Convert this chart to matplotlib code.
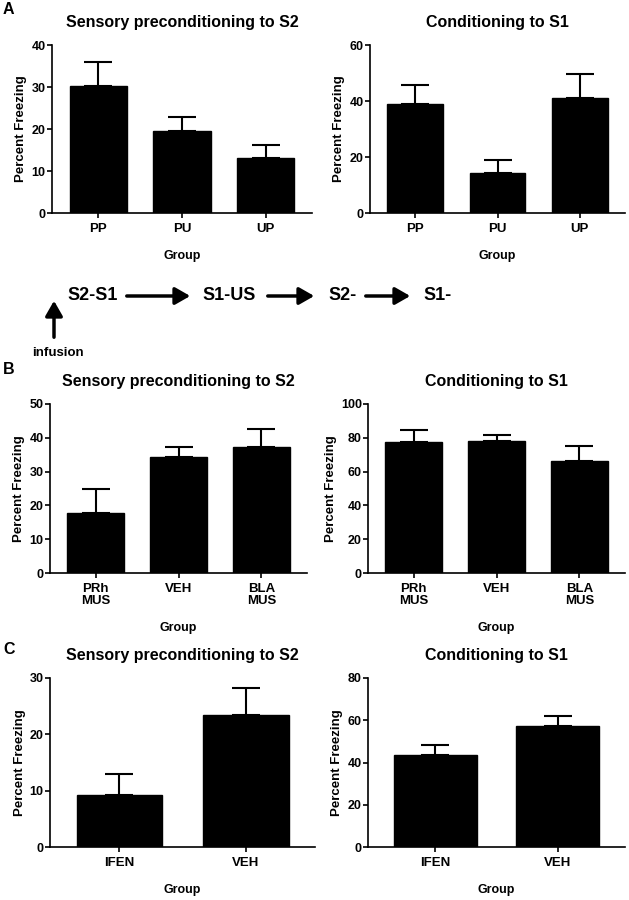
import matplotlib
matplotlib.use("Agg")
import matplotlib.pyplot as plt
import numpy as np

plt.rcParams['font.family'] = ['Liberation Sans', 'DejaVu Sans']
plt.rcParams['font.weight'] = 'bold'
plt.rcParams['axes.labelweight'] = 'bold'
plt.rcParams['axes.titleweight'] = 'bold'

# panel A
a_groups = ["PP", "PU", "UP"]
a_spc_mean = [30.3, 19.6, 13.2]
a_spc_sem = [5.6, 3.2, 3.0]
a_cond_mean = [38.8, 14.3, 41.0]
a_cond_sem = [6.8, 4.5, 8.6]

# panel B
b_groups = ["PRh\nMUS", "VEH", "BLA\nMUS"]
b_spc_mean = [17.8, 34.3, 37.2]
b_spc_sem = [7.1, 3.1, 5.4]
b_cond_mean = [77.6, 78.4, 66.1]
b_cond_sem = [7.0, 3.4, 8.9]

# panel C
c_groups = ["IFEN", "VEH"]
c_spc_mean = [9.3, 23.5]
c_spc_sem = [3.6, 4.8]
c_cond_mean = [43.6, 57.3]
c_cond_sem = [4.6, 4.6]

W, H = 629, 900
fig = plt.figure(figsize=(W / 100, H / 100), dpi=100)


def add_axes_px(x0, x1, y0, y1):
    return fig.add_axes([x0 / W, 1 - y1 / H, (x1 - x0) / W, (y1 - y0) / H])


def bar_panel(ax, groups, mean, sem, ymax, ystep, title):
    x = np.arange(len(groups))
    ax.bar(x, mean, width=0.68, color="black", edgecolor="black",
           yerr=[np.zeros(len(sem)), sem],
           error_kw=dict(ecolor="black", elinewidth=1.5, capsize=10, capthick=1.5))
    ax.set_xlim(-0.55, len(groups) - 0.45)
    ax.set_ylim(0, ymax)
    ax.set_yticks(np.arange(0, ymax + 0.1, ystep))
    ax.set_xticks(x)
    ax.set_xticklabels(groups, fontsize=9.5, linespacing=1.0)
    ax.tick_params(axis="y", labelsize=9, length=3.5, width=1.2, pad=1)
    ax.tick_params(axis="x", length=3.5, width=1.2, pad=4)
    for s in ["top", "right"]:
        ax.spines[s].set_visible(False)
    for s in ["left", "bottom"]:
        ax.spines[s].set_linewidth(1.2)
    ax.set_title(title, fontsize=11.5, pad=13)
    ax.set_ylabel("Percent Freezing", fontsize=9.5, labelpad=3)
    ax.set_xlabel("Group", fontsize=9, labelpad=10.5)


ax = add_axes_px(52, 312, 45, 213)
bar_panel(ax, a_groups, a_spc_mean, a_spc_sem, 40, 10, "Sensory preconditioning to S2")
ax = add_axes_px(370, 625, 45, 213)
bar_panel(ax, a_groups, a_cond_mean, a_cond_sem, 60, 20, "Conditioning to S1")

ax = add_axes_px(50, 307, 404, 573)
bar_panel(ax, b_groups, b_spc_mean, b_spc_sem, 50, 10, "Sensory preconditioning to S2")
ax = add_axes_px(368, 625, 404, 573)
bar_panel(ax, b_groups, b_cond_mean, b_cond_sem, 100, 20, "Conditioning to S1")

ax = add_axes_px(50, 315, 678, 847)
bar_panel(ax, c_groups, c_spc_mean, c_spc_sem, 30, 10, "Sensory preconditioning to S2")
ax = add_axes_px(368, 625, 678, 847)
bar_panel(ax, c_groups, c_cond_mean, c_cond_sem, 80, 20, "Conditioning to S1")

# panel letters
for letter, y in [("A", 10), ("B", 370), ("C", 650)]:
    fig.text(3 / W, 1 - y / H, letter, fontsize=11.5, va="center", ha="left")


# design schematic
def fx(px):
    return px / W


def fy(py):
    return 1 - py / H


stages = [("S2-S1", 67), ("S1-US", 202), ("S2-", 328), ("S1-", 423)]
for label, x0 in stages:
    fig.text(fx(x0), fy(296), label, fontsize=13, va="center", ha="left")

arrows = [(124, 193), (265, 317), (363, 413)]
for x0, x1 in arrows:
    fig.patches.append(matplotlib.patches.FancyArrowPatch(
        (fx(x0), fy(296)), (fx(x1), fy(296)), transform=fig.transFigure,
        arrowstyle="-|>,head_length=7,head_width=4", mutation_scale=1.3,
        lw=2.5, color="black"))
fig.patches.append(matplotlib.patches.FancyArrowPatch(
    (fx(54), fy(340)), (fx(54), fy(298)), transform=fig.transFigure,
    arrowstyle="-|>,head_length=7,head_width=4", mutation_scale=1.3,
    lw=2.5, color="black"))
fig.text(fx(58), fy(353), "infusion", fontsize=9.5, va="center", ha="center")

fig.savefig("out.png", dpi=100)
